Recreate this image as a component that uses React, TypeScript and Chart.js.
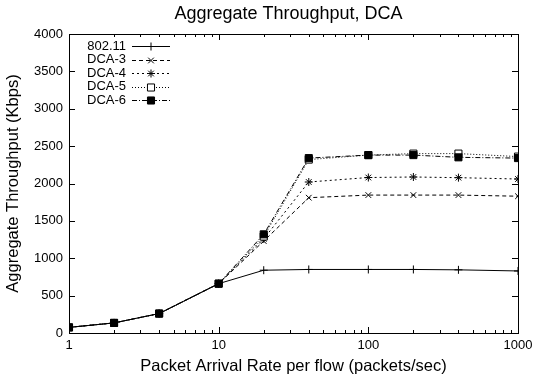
import React, { useEffect, useRef } from "react";
import { Chart, registerables } from "chart.js";
import { drawPoint } from "chart.js/helpers";

Chart.register(...registerables);

const rates = [1, 2, 4, 10, 20, 40, 100, 200, 400, 1000];
const s80211 = [75, 135, 260, 660, 840, 850, 850, 850, 845, 830];
const dca3 = [75, 135, 260, 660, 1230, 1810, 1845, 1845, 1845, 1830];
const dca4 = [75, 135, 260, 660, 1260, 2020, 2080, 2087, 2078, 2060];
const dca5 = [75, 135, 260, 660, 1290, 2320, 2380, 2400, 2400, 2360];
const dca6 = [75, 135, 260, 660, 1320, 2340, 2380, 2380, 2350, 2340];
const seriesNames = ["802.11", "DCA-3", "DCA-4", "DCA-5", "DCA-6"];
const yTickValues = [0, 500, 1000, 1500, 2000, 2500, 3000, 3500, 4000];
const xLabelValues = [1, 10, 100, 1000];
const titleText = "Aggregate Throughput, DCA";

const FONT = "'Liberation Sans', Arial, Helvetica, sans-serif";

const framePlugin = {
  id: "frame",
  afterDatasetsDraw(chart: any) {
    const { ctx, chartArea, scales } = chart;
    const { left, right, top, bottom } = chartArea;
    const x = scales.x;
    const y = scales.y;
    ctx.save();
    ctx.strokeStyle = "#000";
    ctx.lineWidth = 1;
    ctx.beginPath();
    for (const v of yTickValues) {
      const py = Math.round(y.getPixelForValue(v)) + 0.5;
      ctx.moveTo(left, py);
      ctx.lineTo(left + 6, py);
      ctx.moveTo(right, py);
      ctx.lineTo(right - 6, py);
    }
    for (const d of [1, 10, 100]) {
      for (let k = 1; k <= 9; k++) {
        const v = d * k;
        const px = Math.round(x.getPixelForValue(v)) + 0.5;
        const len = k === 1 ? 6 : 3;
        ctx.moveTo(px, bottom);
        ctx.lineTo(px, bottom - len);
        ctx.moveTo(px, top);
        ctx.lineTo(px, top + len);
      }
    }
    ctx.stroke();
    ctx.strokeRect(
      Math.round(left) + 0.5,
      Math.round(top) + 0.5,
      Math.round(right - left),
      Math.round(bottom - top)
    );
    ctx.font = `18px ${FONT}`;
    ctx.fillStyle = "#000";
    ctx.textAlign = "center";
    ctx.textBaseline = "middle";
    ctx.fillText(titleText, (left + right) / 2 - 5, 14);
    ctx.restore();
  },
};

const legendPlugin = {
  id: "gnuLegend",
  afterDraw(chart: any) {
    const { ctx, chartArea } = chart;
    const left = chartArea.left;
    const top = chartArea.top;
    ctx.save();
    chart.data.datasets.forEach((ds: any, i: number) => {
      const cy = top + 12 + i * 13.6;
      ctx.font = `13px ${FONT}`;
      ctx.fillStyle = "#000";
      ctx.textAlign = "right";
      ctx.textBaseline = "middle";
      ctx.fillText(ds.label, left + 57, cy);
      ctx.beginPath();
      ctx.strokeStyle = "#000";
      ctx.lineWidth = 1;
      ctx.setLineDash(ds.borderDash || []);
      ctx.moveTo(left + 63, Math.round(cy) + 0.5);
      ctx.lineTo(left + 101, Math.round(cy) + 0.5);
      ctx.stroke();
      ctx.setLineDash([]);
      ctx.fillStyle = ds.pointBackgroundColor;
      ctx.strokeStyle = "#000";
      drawPoint(
        ctx,
        {
          pointStyle: ds.pointStyle,
          radius: ds.pointRadius,
          borderWidth: 1,
          rotation: 0,
        } as any,
        left + 82,
        Math.round(cy) + 0.5
      );
    });
    ctx.restore();
  },
};

function toPoints(vals: number[]) {
  return rates.map((r, i) => ({ x: r, y: vals[i] }));
}

export default function App() {
  const ref = useRef<HTMLCanvasElement>(null);
  useEffect(() => {
    if (!ref.current) return;
    Chart.defaults.font.family = FONT;
    Chart.defaults.color = "#000";
    const styles = [
      { dash: [], ps: "cross", r: 4, bg: "#000" },
      { dash: [4, 3], ps: "crossRot", r: 4, bg: "#000" },
      { dash: [2, 3], ps: "star", r: 4, bg: "#000" },
      { dash: [1, 2], ps: "rect", r: 5, bg: "#fff" },
      { dash: [5, 2, 1, 2], ps: "rect", r: 5, bg: "#000" },
    ];
    const series = [s80211, dca3, dca4, dca5, dca6];
    const chart = new Chart(ref.current, {
      type: "line",
      data: {
        datasets: series.map((vals, i) => ({
          label: seriesNames[i],
          data: toPoints(vals),
          order: series.length - 1 - i,
          borderColor: "#000",
          borderWidth: 1,
          borderDash: styles[i].dash,
          pointStyle: styles[i].ps as any,
          pointRadius: styles[i].r,
          pointBackgroundColor: styles[i].bg,
          pointBorderColor: "#000",
          pointBorderWidth: 1,
          tension: 0,
          fill: false,
        })),
      },
      options: {
        animation: false,
        responsive: false,
        layout: { padding: { left: 0, right: 15, top: 34, bottom: 0 } },
        plugins: {
          legend: { display: false },
          tooltip: { enabled: false },
          title: { display: false },
        },
        scales: {
          x: {
            type: "logarithmic",
            min: 1,
            max: 1000,
            grid: { display: false, drawTicks: false },
            border: { display: false },
            ticks: {
              autoSkip: false,
              maxRotation: 0,
              padding: 5,
              color: "#000",
              font: { size: 13, family: FONT },
              callback: (v: any) =>
                xLabelValues.includes(Number(v)) ? String(v) : "",
            },
            title: {
              display: true,
              text: "Packet Arrival Rate per flow (packets/sec)",
              color: "#000",
              font: { size: 16.5, family: FONT },
              padding: { top: 0, bottom: 4 },
            },
            afterFit: (s: any) => {
              s.height = 47;
              s.paddingLeft = 0;
              s.paddingRight = 0;
            },
          },
          y: {
            min: 0,
            max: 4000,
            grid: { display: false, drawTicks: false },
            border: { display: false },
            ticks: {
              stepSize: 500,
              padding: 6,
              color: "#000",
              font: { size: 13, family: FONT },
              callback: (v: any) => String(v),
            },
            title: {
              display: true,
              text: "Aggregate Throughput (Kbps)",
              color: "#000",
              font: { size: 16.5, family: FONT },
              padding: { top: 4, bottom: 0 },
            },
            afterFit: (s: any) => {
              s.width = 69;
              s.paddingTop = 0;
              s.paddingBottom = 0;
            },
          },
        },
      } as any,
      plugins: [framePlugin, legendPlugin],
    });
    return () => chart.destroy();
  }, []);
  return (
    <div style={{ position: "absolute", left: 0, top: 0, width: 533, height: 380, background: "#fff" }}>
      <canvas ref={ref} width={533} height={380} />
    </div>
  );
}
